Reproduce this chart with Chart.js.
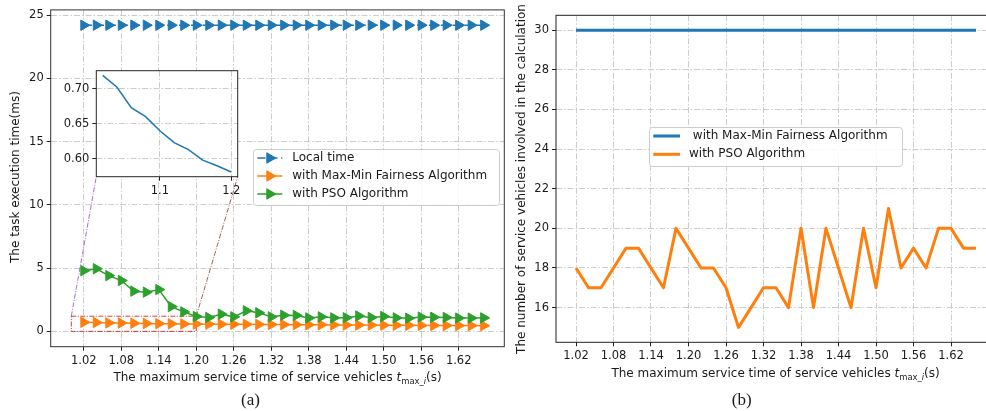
<!DOCTYPE html>
<html>
<head>
<meta charset="utf-8">
<script src="https://cdn.jsdelivr.net/npm/chart.js@4"></script>
<style>
  html, body { margin: 0; padding: 0; background: #fff; overflow: hidden; }
  #fig { position: relative; width: 986px; height: 411px; overflow: hidden;
         font-family: 'DejaVu Sans', sans-serif; color: #1a1a1a; }
  canvas { position: absolute; top: 0; }
  .xt, .yt, .cap { position: absolute; white-space: nowrap; line-height: 1; }
  .xt { font-size: 12px; transform: translate(-50%, -50%); }
  .yt { font-size: 12px; transform: translate(-50%, -50%) rotate(-90deg); }
  .cap { font-family: 'Liberation Serif', serif; font-size: 17px; transform: translate(-50%, -50%); }
  sub { font-size: 70%; vertical-align: -0.3em; line-height: 0; }
</style>
</head>
<body>
<div id="fig">
  <canvas id="right" width="500" height="411" style="left:505px"></canvas>
  <canvas id="left" width="510" height="411" style="left:0px"></canvas>
  <canvas id="inset" width="200" height="150" style="left:50px;top:55px"></canvas>

  <div class="yt" style="left:15px;top:176.7px">The task execution time(ms)</div>
  <div class="xt" style="left:277.5px;top:377px">The maximum service time of service vehicles <i>t</i><sub>max_<i>i</i></sub>(s)</div>
  <div class="cap" style="left:250.5px;top:399px">(a)</div>

  <div class="yt" style="left:520.7px;top:178.8px">The number of service vehicles involved in the calculation</div>
  <div class="xt" style="left:775.5px;top:373px">The maximum service time of service vehicles <i>t</i><sub>max_<i>i</i></sub>(s)</div>
  <div class="cap" style="left:741.7px;top:399px">(b)</div>
</div>

<script>
// ---- data -------------------------------------------------------------
const serviceTimes = [1.02, 1.04, 1.06, 1.08, 1.10, 1.12, 1.14, 1.16, 1.18, 1.20,
                      1.22, 1.24, 1.26, 1.28, 1.30, 1.32, 1.34, 1.36, 1.38, 1.40,
                      1.42, 1.44, 1.46, 1.48, 1.50, 1.52, 1.54, 1.56, 1.58, 1.60,
                      1.62, 1.64, 1.66];

// task execution time (ms)
const localTime = [24.2, 24.2, 24.2, 24.2, 24.2, 24.2, 24.2, 24.2, 24.2, 24.2,
                   24.2, 24.2, 24.2, 24.2, 24.2, 24.2, 24.2, 24.2, 24.2, 24.2,
                   24.2, 24.2, 24.2, 24.2, 24.2, 24.2, 24.2, 24.2, 24.2, 24.2,
                   24.2, 24.2, 24.2];
const maxMinTime = [0.719, 0.702, 0.673, 0.660, 0.640, 0.623, 0.613, 0.598, 0.590, 0.581,
                    0.574, 0.568, 0.562, 0.556, 0.549, 0.543, 0.537, 0.531, 0.525, 0.519,
                    0.513, 0.507, 0.502, 0.496, 0.491, 0.486, 0.480, 0.475, 0.470, 0.466,
                    0.461, 0.456, 0.452];
const psoTime = [4.80, 4.95, 4.41, 4.02, 3.18, 3.10, 3.31, 1.96, 1.54, 1.18,
                 1.10, 1.36, 1.15, 1.63, 1.47, 1.15, 1.28, 1.26, 1.06, 1.15,
                 1.07, 1.08, 1.22, 1.10, 1.18, 1.07, 1.04, 1.13, 1.12, 1.10,
                 1.05, 1.05, 1.07];

// number of service vehicles involved in the calculation
const maxMinVehicles = [30, 30, 30, 30, 30, 30, 30, 30, 30, 30,
                        30, 30, 30, 30, 30, 30, 30, 30, 30, 30,
                        30, 30, 30, 30, 30, 30, 30, 30, 30, 30,
                        30, 30, 30];
const psoVehicles = [18, 17, 17, 18, 19, 19, 18, 17, 20, 19,
                     18, 18, 17, 15, 16, 17, 17, 16, 20, 16,
                     20, 18, 16, 20, 17, 21, 18, 19, 18, 20,
                     20, 19, 19];

// tick values
const timeTicks = [1.02, 1.08, 1.14, 1.20, 1.26, 1.32, 1.38, 1.44, 1.50, 1.56, 1.62];
const execTicks = [0, 5, 10, 15, 20, 25];
const vehicleTicks = [16, 18, 20, 22, 24, 26, 28, 30];
const insetTimeTicks = [1.1, 1.2];
const insetExecTicks = [0.60, 0.65, 0.70];

// region of panel (a) that is magnified in the inset
const zoomWindow = { x0: 1.00, x1: 1.20, y0: 0, y1: 1.2 };

// ---- helpers ----------------------------------------------------------
Chart.defaults.font.family = "'DejaVu Sans', sans-serif";
Chart.defaults.color = '#1a1a1a';

const C_BLUE = '#1f77b4', C_ORANGE = '#ff7f0e', C_GREEN = '#2ca02c';
const GRID_DASH = [6, 2, 1.5, 2];
const TICK_FONT = 11.5;

const points = (ys, xs = serviceTimes) => xs.map((x, i) => ({ x, y: ys[i] }));

function axis(min, max, ticks, digits, size, tickPad) {
  return {
    type: 'linear', min, max,
    afterBuildTicks: s => { s.ticks = ticks.map(v => ({ value: v })); },
    afterFit: s => { if (s.isHorizontal()) s.height = size; else s.width = size; },
    ticks: {
      autoSkip: false, maxRotation: 0, minRotation: 0, padding: tickPad,
      color: '#1a1a1a', font: { size: TICK_FONT },
      callback: v => Number(v).toFixed(digits)
    },
    grid: { color: '#c6c6c6', lineWidth: 0.9, drawTicks: true, tickLength: 4,
            tickColor: '#222', tickWidth: 1 },
    border: { display: false, dash: GRID_DASH },
    title: { display: false }
  };
}

function drawRightTriangle(ctx, cx, cy, r, color) {
  ctx.save();
  ctx.setLineDash([]);
  ctx.fillStyle = color; ctx.strokeStyle = color; ctx.lineWidth = 1;
  ctx.beginPath();
  ctx.moveTo(cx + r, cy);
  ctx.lineTo(cx - r / 2, cy - r * 0.866);
  ctx.lineTo(cx - r / 2, cy + r * 0.866);
  ctx.closePath();
  ctx.fill(); ctx.stroke();
  ctx.restore();
}

// axes frame drawn over the data, like plot spines
const frame = {
  id: 'frame',
  afterDatasetsDraw(chart, args, o) {
    const { ctx, chartArea: a } = chart;
    ctx.save();
    ctx.strokeStyle = o.color || '#262626';
    ctx.lineWidth = 1;
    ctx.setLineDash([]);
    ctx.strokeRect(a.left, a.top, a.right - a.left, a.bottom - a.top);
    ctx.restore();
  }
};

// white plotting background (used by the inset)
const plotBackground = {
  id: 'plotBackground',
  beforeDraw(chart, args, o) {
    if (!o.color) return;
    const { ctx, chartArea: a } = chart;
    ctx.save();
    ctx.fillStyle = o.color;
    ctx.fillRect(a.left, a.top, a.right - a.left, a.bottom - a.top);
    ctx.restore();
  }
};

// boxed legend placed inside the plotting area
const boxLegend = {
  id: 'boxLegend',
  afterDraw(chart, args, o) {
    if (!o.box) return;
    const ctx = chart.ctx;
    const b = o.box;
    ctx.save();
    ctx.beginPath();
    ctx.roundRect(b.x + 0.5, b.y + 0.5, b.w, b.h, 3);
    ctx.fillStyle = 'rgba(255,255,255,0.85)';
    ctx.fill();
    ctx.strokeStyle = '#cccccc';
    ctx.lineWidth = 1;
    ctx.stroke();
    chart.data.datasets.forEach((ds, i) => {
      const cy = o.rows[i];
      const x0 = o.handleX, x1 = o.handleX + o.handleLen;
      ctx.save();
      ctx.setLineDash(ds.borderDash || []);
      ctx.lineWidth = ds.borderWidth;
      ctx.strokeStyle = ds.borderColor;
      ctx.beginPath(); ctx.moveTo(x0, cy); ctx.lineTo(x1, cy); ctx.stroke();
      ctx.restore();
      if (ds.pointRadius) drawRightTriangle(ctx, (x0 + x1) / 2, cy, ds.pointRadius, ds.borderColor);
      ctx.fillStyle = '#1a1a1a';
      ctx.font = o.fontSize + "px 'DejaVu Sans', sans-serif";
      ctx.textBaseline = 'middle';
      ctx.textAlign = 'left';
      ctx.fillText(ds.label, o.textX, cy);
    });
    ctx.restore();
  }
};

const baseOptions = {
  responsive: false,
  animation: false,
  events: [],
  plugins: { legend: { display: false }, tooltip: { enabled: false } }
};

// ---- inset: close-up of the Max-Min curve -----------------------------
const insetEl = document.getElementById('inset');
const insetIdx = serviceTimes.map((x, i) => i).filter(i => serviceTimes[i] <= zoomWindow.x1 + 1e-9);
const insetChart = new Chart(insetEl, {
  type: 'line',
  data: {
    datasets: [{
      data: insetIdx.map(i => ({ x: serviceTimes[i], y: maxMinTime[i] })),
      borderColor: C_BLUE, borderWidth: 1.5, pointRadius: 0, tension: 0, fill: false
    }]
  },
  options: Object.assign({}, baseOptions, {
    layout: { autoPadding: false, padding: { left: 0, top: 15.7, right: 12.3, bottom: 0 } },
    scales: {
      x: axis(1.011, 1.209, insetTimeTicks, 1, 28.3, 3),
      y: axis(0.5743, 0.7257, insetExecTicks, 2, 46.3, 3)
    },
    plugins: Object.assign({}, baseOptions.plugins, {
      plotBackground: { color: '#ffffff' },
      frame: { color: '#262626' }
    })
  }),
  plugins: [plotBackground, frame]
});

// ---- panel (a): task execution time -----------------------------------
const zoomMarks = {
  id: 'zoomMarks',
  beforeDatasetsDraw(chart) {
    const { ctx, scales: { x, y } } = chart;
    const l = x.getPixelForValue(zoomWindow.x0), r = x.getPixelForValue(zoomWindow.x1);
    const t = y.getPixelForValue(zoomWindow.y1), b = y.getPixelForValue(zoomWindow.y0);
    ctx.save();
    ctx.strokeStyle = '#d62728';
    ctx.lineWidth = 0.9;
    ctx.setLineDash([5, 1.5, 1, 1.5]);
    ctx.strokeRect(l, t, r - l, b - t);

    // connectors to the inset's lower corners
    const ia = insetChart.chartArea;
    const ox = insetEl.offsetLeft, oy = insetEl.offsetTop;
    ctx.lineWidth = 0.9;
    ctx.strokeStyle = '#9467bd';
    ctx.beginPath(); ctx.moveTo(l, t); ctx.lineTo(ox + ia.left, oy + ia.bottom); ctx.stroke();
    ctx.strokeStyle = '#8c564b';
    ctx.beginPath(); ctx.moveTo(r, t); ctx.lineTo(ox + ia.right, oy + ia.bottom); ctx.stroke();
    ctx.restore();
  }
};

const markerStyle = color => ({
  borderColor: color, backgroundColor: color,
  pointStyle: 'triangle', pointRotation: 90, pointRadius: 6,
  pointBorderWidth: 1, pointBackgroundColor: color, pointBorderColor: color,
  borderWidth: 1.5, tension: 0, fill: false
});

new Chart(document.getElementById('left'), {
  type: 'line',
  data: {
    datasets: [
      Object.assign({ label: 'Local time', data: points(localTime), borderDash: [8.3, 3.6], order: 3 }, markerStyle(C_BLUE)),
      Object.assign({ label: 'with Max-Min Fairness Algorithm', data: points(maxMinTime), order: 2 }, markerStyle(C_ORANGE)),
      Object.assign({ label: 'with PSO Algorithm', data: points(psoTime), order: 1 }, markerStyle(C_GREEN))
    ]
  },
  options: Object.assign({}, baseOptions, {
    layout: { autoPadding: false, padding: { left: 0, top: 6.7, right: 5.7, bottom: 0 } },
    scales: {
      x: axis(0.967, 1.693, timeTicks, 2, 64.3, 3),
      y: axis(-1.21, 25.41, execTicks, 0, 50.7, 3)
    },
    plugins: Object.assign({}, baseOptions.plugins, {
      frame: { color: '#333333' },
      boxLegend: {
        box: { x: 253, y: 149, w: 246, h: 56 },
        rows: [158, 176, 194], handleX: 257.3, handleLen: 25, textX: 292.3, fontSize: 12
      }
    })
  }),
  plugins: [zoomMarks, frame, boxLegend]
});

// ---- panel (b): number of participating service vehicles --------------
new Chart(document.getElementById('right'), {
  type: 'line',
  data: {
    datasets: [
      { label: ' with Max-Min Fairness Algorithm', data: points(maxMinVehicles),
        borderColor: C_BLUE, borderWidth: 3, pointRadius: 0, tension: 0, fill: false,
        borderJoinStyle: 'round', order: 2 },
      { label: 'with PSO Algorithm', data: points(psoVehicles),
        borderColor: C_ORANGE, borderWidth: 3, pointRadius: 0, tension: 0, fill: false,
        borderJoinStyle: 'round', order: 1 }
    ]
  },
  options: Object.assign({}, baseOptions, {
    layout: { autoPadding: false, padding: { left: 0, top: 15.3, right: 9, bottom: 0 } },
    scales: {
      x: axis(0.988, 1.692, timeTicks, 2, 68.7, 3),
      y: axis(14.25, 30.75, vehicleTicks, 0, 51, 3)
    },
    plugins: Object.assign({}, baseOptions.plugins, {
      frame: { color: '#222222' },
      boxLegend: {
        box: { x: 144, y: 127, w: 253, h: 39 },
        rows: [136, 154.3], handleX: 148.3, handleLen: 26.7, textX: 184, fontSize: 12
      }
    })
  }),
  plugins: [frame, boxLegend]
});
</script>
</body>
</html>
